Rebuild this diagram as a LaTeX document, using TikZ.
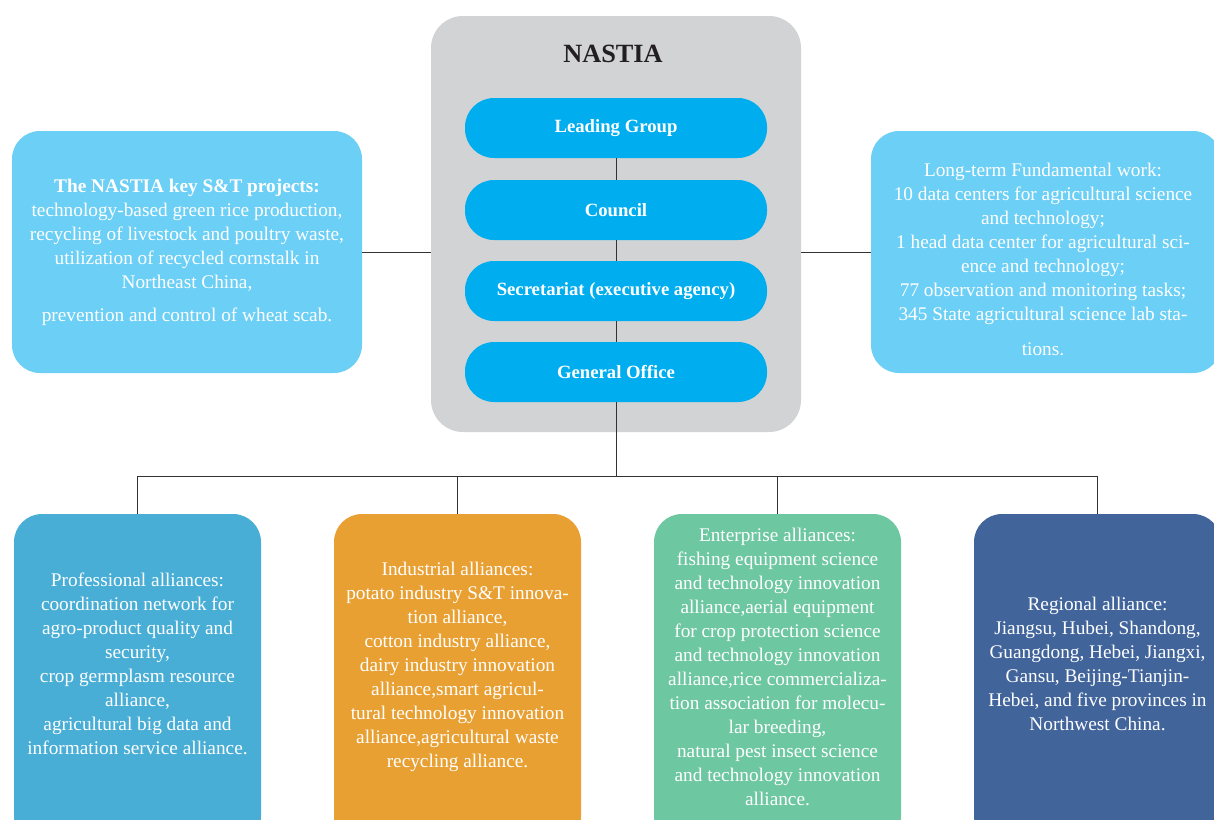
\documentclass[tikz,border=0pt]{standalone}
\usepackage{fontspec}
\setmainfont{Liberation Serif}
\definecolor{graybox}{HTML}{D1D3D4}
\definecolor{pill}{HTML}{00AEEF}
\definecolor{lightblue}{HTML}{6CCFF6}
\definecolor{profc}{HTML}{48AED6}
\definecolor{indc}{HTML}{E9A032}
\definecolor{entc}{HTML}{6DC7A1}
\definecolor{regc}{HTML}{41649B}
\definecolor{linec}{HTML}{333333}
\definecolor{titlec}{HTML}{231F20}
\begin{document}
\begin{tikzpicture}[x=1pt,y=-1pt,
  conn/.style={draw=linec,line width=1pt},
  panel/.style={rectangle,rounded corners=28pt,inner sep=0pt},
  pillbox/.style={rectangle,rounded corners=29pt,fill=pill,minimum width=302pt,minimum height=60pt,
    text=white,font=\fontsize{18.7}{20}\selectfont\bfseries,inner sep=0pt},
  bodytext/.style={align=center,text=white,font=\fontsize{19.3}{24}\selectfont,inner sep=0pt},
]
\clip (0,0) rectangle (1214,819);
\useasboundingbox (0,0) rectangle (1214,819);
\fill[white] (0,0) rectangle (1214,819);

% central NASTIA box
\node[panel,fill=graybox,minimum width=370pt,minimum height=416pt,rounded corners=32pt] (nastia) at (616,224) {};
\node[text=titlec,font=\fontsize{26.3}{28}\selectfont\bfseries,inner sep=0pt] (title) at (613,54) {NASTIA};

\node[pillbox] (lg) at (616,128) {Leading Group};
\node[pillbox] (council) at (616,210) {Council};
\node[pillbox] (sec) at (616,291) {Secretariat (executive agency)};
\node[pillbox] (go) at (616,372) {General Office};

\draw[conn] (lg.south) -- (council.north);
\draw[conn] (council.south) -- (sec.north);
\draw[conn] (sec.south) -- (go.north);

% side boxes
\node[panel,fill=lightblue,minimum width=350pt,minimum height=242pt,bodytext] (left) at (187,252)
 {{\bfseries The NASTIA key S\&T projects:}\\
  technology-based green rice production,\\
  recycling of livestock and poultry waste,\\
  utilization of recycled cornstalk in\\
  Northeast China,\\[9pt]
  prevention and control of wheat scab.};

\node[panel,fill=lightblue,minimum width=350pt,minimum height=242pt] (right) at (1046,252) {};
\node[bodytext] (righttext) at (1043,259.5)
 {Long-term Fundamental work:\\
  10 data centers for agricultural science\\
  and technology;\\
  1 head data center for agricultural sci-\\
  ence and technology;\\
  77 observation and monitoring tasks;\\
  345 State agricultural science lab sta-\\[11pt]
  tions.};

\draw[conn] (left.east) -- (left.east -| nastia.west);
\draw[conn] (nastia.east |- right.west) -- (right.west);

% bottom boxes
\node[panel,fill=profc,minimum width=247pt,minimum height=330pt] (prof) at (137.5,679) {};
\node[panel,fill=indc,minimum width=247pt,minimum height=330pt] (ind) at (457.5,679) {};
\node[panel,fill=entc,minimum width=247pt,minimum height=330pt] (ent) at (777.5,679) {};
\node[panel,fill=regc,minimum width=247pt,minimum height=330pt] (reg) at (1097.5,679) {};

\node[bodytext] (proftext) at (137.5,664)
 {Professional alliances:\\
  coordination network for\\
  agro-product quality and\\
  security,\\
  crop germplasm resource\\
  alliance,\\
  agricultural big data and\\
  information service alliance.};

\node[bodytext] (indtext) at (457.5,667)
 {Industrial alliances:\\
  potato industry S\&T innova-\\
  tion alliance,\\
  cotton industry alliance,\\
  dairy industry innovation\\
  alliance,smart agricul-\\
  tural technology innovation\\
  alliance,agricultural waste\\
  recycling alliance.};

\node[bodytext] (enttext) at (777.5,666.5)
 {Enterprise alliances:\\
  fishing equipment science\\
  and technology innovation\\
  alliance,aerial equipment\\
  for crop protection science\\
  and technology innovation\\
  alliance,rice commercializa-\\
  tion association for molecu-\\
  lar breeding,\\
  natural pest insect science\\
  and technology innovation\\
  alliance.};

\node[bodytext] (regtext) at (1097.5,664)
 {Regional alliance:\\
  Jiangsu, Hubei, Shandong,\\
  Guangdong, Hebei, Jiangxi,\\
  Gansu, Beijing-Tianjin-\\
  Hebei, and five provinces in\\
  Northwest China.};

% tree connectors
\coordinate (bus) at (616,476);
\draw[conn] (go.south) -- (bus);
\draw[conn] (prof.north) -- (prof.north |- bus) -- (reg.north |- bus) -- (reg.north);
\draw[conn] (ind.north) -- (ind.north |- bus);
\draw[conn] (ent.north) -- (ent.north |- bus);
\end{tikzpicture}
\end{document}
